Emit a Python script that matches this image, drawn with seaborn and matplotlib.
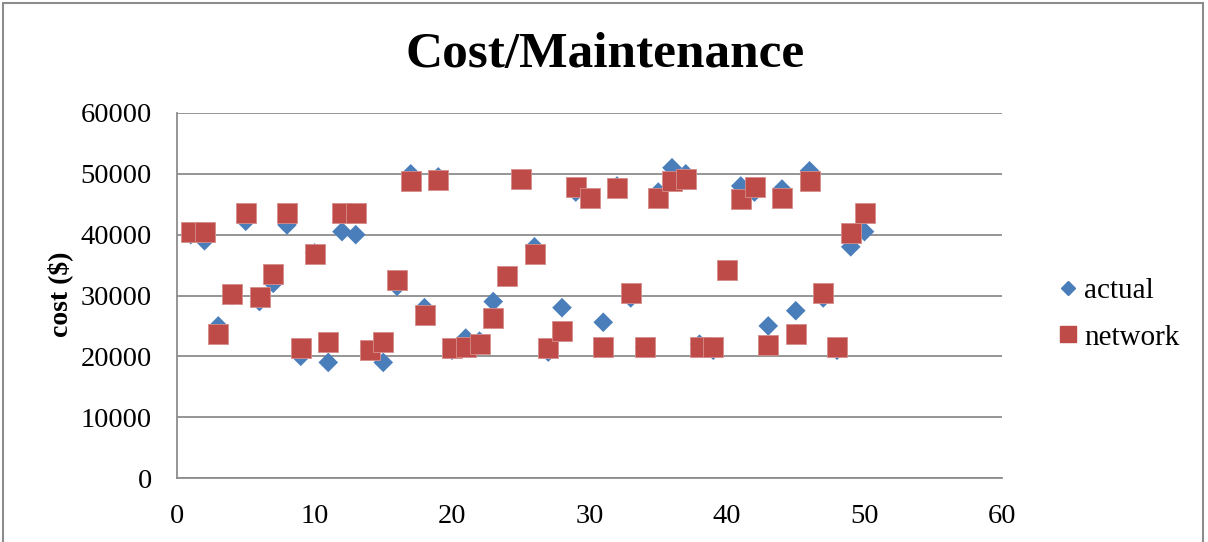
import numpy as np
import pandas as pd
import matplotlib
matplotlib.use("Agg")
import matplotlib.pyplot as plt
from matplotlib.lines import Line2D
from matplotlib.patches import Rectangle
import seaborn as sns

# ======================================
# Data
# ======================================

sample = list(range(1, 51))

actual = [
    40000, 39000, 25000, 30000, 42200, 29000, 32000, 41600, 20000, 37000,
    19000, 40500, 40000, 21000, 19000, 31500, 50000, 28000, 49500, 21000,
    23000, 22500, 29000, 33000, 49000, 38000, 20700, 28000, 47000, 46000,
    25600, 48000, 29600, 21500, 47000, 51000, 50000, 22000, 21000, 34000,
    48000, 47000, 25000, 47500, 27500, 50500, 29600, 21000, 38000, 40500,
]

network = [
    40500, 40400, 23600, 30200, 43500, 29800, 33600, 43500, 21400, 36800,
    22300, 43500, 43500, 21100, 22300, 32500, 48800, 26800, 49000, 21300,
    21500, 22100, 26300, 33200, 49100, 36900, 21400, 24100, 47900, 46100,
    21500, 47700, 30400, 21500, 46100, 48800, 49200, 21500, 21500, 34200,
    45900, 47900, 21800, 46100, 23700, 48800, 30400, 21600, 40300, 43600,
]

x_ticks = [0, 10, 20, 30, 40, 50, 60]
y_ticks = [0, 10000, 20000, 30000, 40000, 50000, 60000]

BLUE = "#4A7EBB"
RED = "#BE4B48"
GRID = "#8C8C8C"

df = pd.DataFrame({"sample": sample, "actual": actual, "network": network})

# ======================================
# Style
# ======================================

sns.set_style("white")
plt.rcParams["font.family"] = ["Liberation Serif", "DejaVu Serif"]
plt.rcParams["text.color"] = "black"
plt.rcParams["xtick.color"] = "black"
plt.rcParams["ytick.color"] = "black"

fig = plt.figure(figsize=(12.08, 5.42), dpi=100)
ax = fig.add_axes([177 / 1208, 1 - 478 / 542, 825 / 1208, 365 / 542])

# outer chart frame
fig.patches.append(Rectangle(
    (3 / 1208, -0.1), 1200 / 1208, 1.1 - 3 / 542,
    transform=fig.transFigure, fill=False,
    edgecolor="#8C8C8C", linewidth=1.5
))

# ======================================
# Scatter
# ======================================

sns.scatterplot(
    data=df, x="sample", y="actual", ax=ax,
    marker="D", s=100, color=BLUE, edgecolor="none",
    zorder=3, legend=False
)

sns.scatterplot(
    data=df, x="sample", y="network", ax=ax,
    marker="s", s=205, color=RED, edgecolor="#D58E8C", linewidth=0.6,
    zorder=4, legend=False
)

# ======================================
# Axes
# ======================================

ax.set_xlim(0, 60)
ax.set_ylim(0, 60000)
ax.set_xticks(x_ticks)
ax.set_yticks(y_ticks)
ax.set_xticklabels([str(v) for v in x_ticks])
ax.set_yticklabels([str(v) for v in y_ticks])
ax.tick_params(axis="both", length=0, labelsize=20.5, labelcolor="black")
ax.tick_params(axis="y", pad=18)
ax.tick_params(axis="x", pad=19)

ax.set_xlabel("")
ax.set_ylabel("")

ax.yaxis.grid(True, color=GRID, linewidth=1.3)
ax.xaxis.grid(False)
ax.set_axisbelow(True)

for side in ["top", "right"]:
    ax.spines[side].set_visible(False)
for side in ["left", "bottom"]:
    ax.spines[side].set_color(GRID)
    ax.spines[side].set_linewidth(1.3)

# ======================================
# Text
# ======================================

fig.text(605 / 1208, 1 - 55 / 542, "Cost/Maintenance", color="black",
         ha="center", va="center", fontsize=37, fontweight="bold")

fig.text(60 / 1208, 1 - 294 / 542, "cost ($)", rotation=90, color="black",
         ha="center", va="center", fontsize=20, fontweight="bold")

# ======================================
# Legend
# ======================================

handles = [
    Line2D([], [], marker="D", color=BLUE, linestyle="None", markersize=7),
    Line2D([], [], marker="s", color=RED, linestyle="None", markersize=12),
]

fig.legend(
    handles, ["actual", "network"],
    loc="center left", bbox_to_anchor=(1059 / 1208, 1 - 314 / 542),
    frameon=False, fontsize=21, handlelength=0.6, handletextpad=0.26,
    labelspacing=0.7, borderpad=0, borderaxespad=0, labelcolor="black"
)

plt.savefig("out.png", dpi=100)
plt.close()
